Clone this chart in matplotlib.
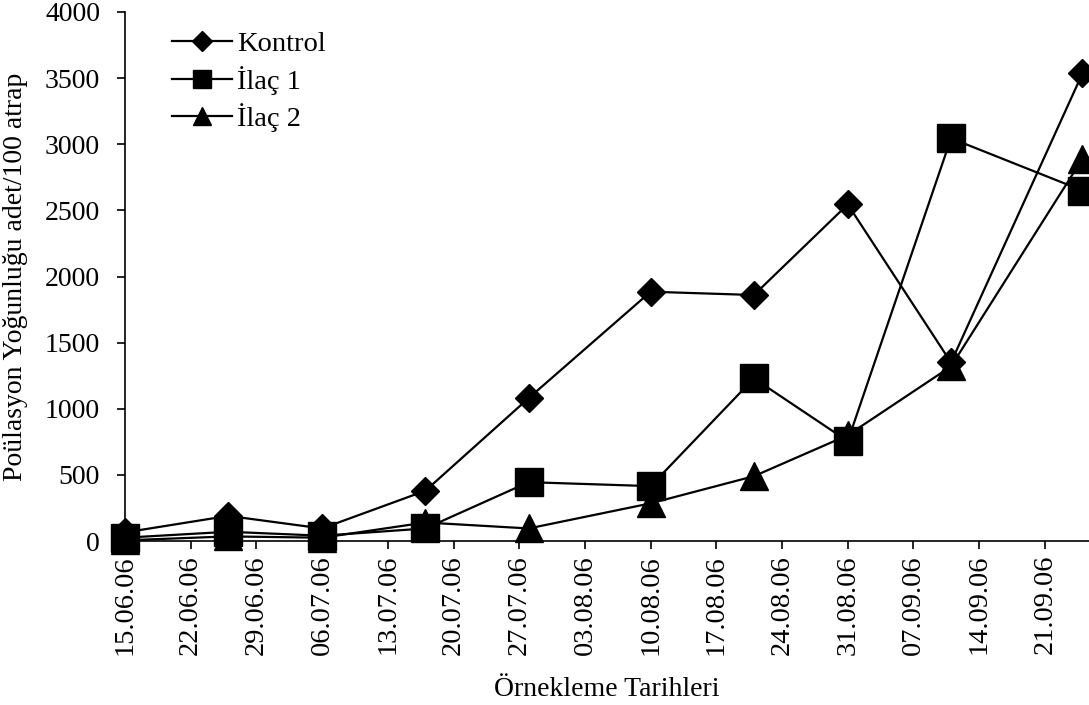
import matplotlib
matplotlib.use("Agg")
import matplotlib.pyplot as plt
import matplotlib.dates as mdates
import numpy as np
import pandas as pd

plt.rcParams["font.family"] = ["Liberation Serif", "DejaVu Serif"]

dates = ["2006-06-15", "2006-06-26", "2006-07-06", "2006-07-17", "2006-07-28",
         "2006-08-10", "2006-08-21", "2006-08-31", "2006-09-11", "2006-09-25"]
kontrol = [65, 190, 95, 380, 1080, 1885, 1860, 2545, 1350, 3535]
ilac1 = [25, 70, 40, 95, 445, 415, 1230, 755, 3045, 2650]
ilac2 = [5, 35, 25, 140, 95, 285, 490, 800, 1320, 2890]
series_labels = ["Kontrol", "İlaç 1", "İlaç 2"]
y_ticks = [0, 500, 1000, 1500, 2000, 2500, 3000, 3500, 4000]
x_label = "Örnekleme Tarihleri"
y_label = "Poülasyon Yoğunluğu adet/100 atrap"

x = pd.to_datetime(dates)
tick_dates = pd.date_range("2006-06-15", "2006-09-21", freq="7D")

fig = plt.figure(figsize=(10.89, 7.05), dpi=100)
ax = fig.add_axes([0.1148, 0.2326, 0.8852, 0.7504])

styles = [("D", 14.5), ("s", 19.5), ("^", 19.5)]
for values, label, (marker, ms) in zip([kontrol, ilac1, ilac2], series_labels, styles):
    ax.plot(x, values, color="black", lw=1.6, marker=marker, markersize=ms,
            markerfacecolor="black", markeredgecolor="black", label=label, clip_on=False)

ax.set_ylim(0, 4000)
ax.set_yticks(y_ticks)
ax.set_xlim(pd.Timestamp("2006-06-15"), pd.Timestamp("2006-06-15") + pd.Timedelta(days=102.7))
ax.set_xticks(tick_dates)
ax.xaxis.set_major_formatter(mdates.DateFormatter("%d.%m.%y"))
for lab in ax.get_xticklabels():
    lab.set_rotation(90)

ax.tick_params(axis="both", direction="out", length=6, width=1.2, colors="black")
ax.tick_params(axis="x", pad=4, labelsize=20.5)
ax.tick_params(axis="y", pad=12, labelsize=20)
for side in ("top", "right"):
    ax.spines[side].set_visible(False)
for side in ("left", "bottom"):
    ax.spines[side].set_linewidth(1.2)

ax.set_xlabel(x_label, fontsize=20, labelpad=16)
ax.set_ylabel(y_label, fontsize=20, labelpad=12)

leg = ax.legend(loc="upper left", bbox_to_anchor=(0.022, 1.012), frameon=False, fontsize=20.5,
                handlelength=2.1, markerscale=0.7, labelspacing=0.3, handletextpad=0.2)

fig.savefig("out.png", dpi=100)
